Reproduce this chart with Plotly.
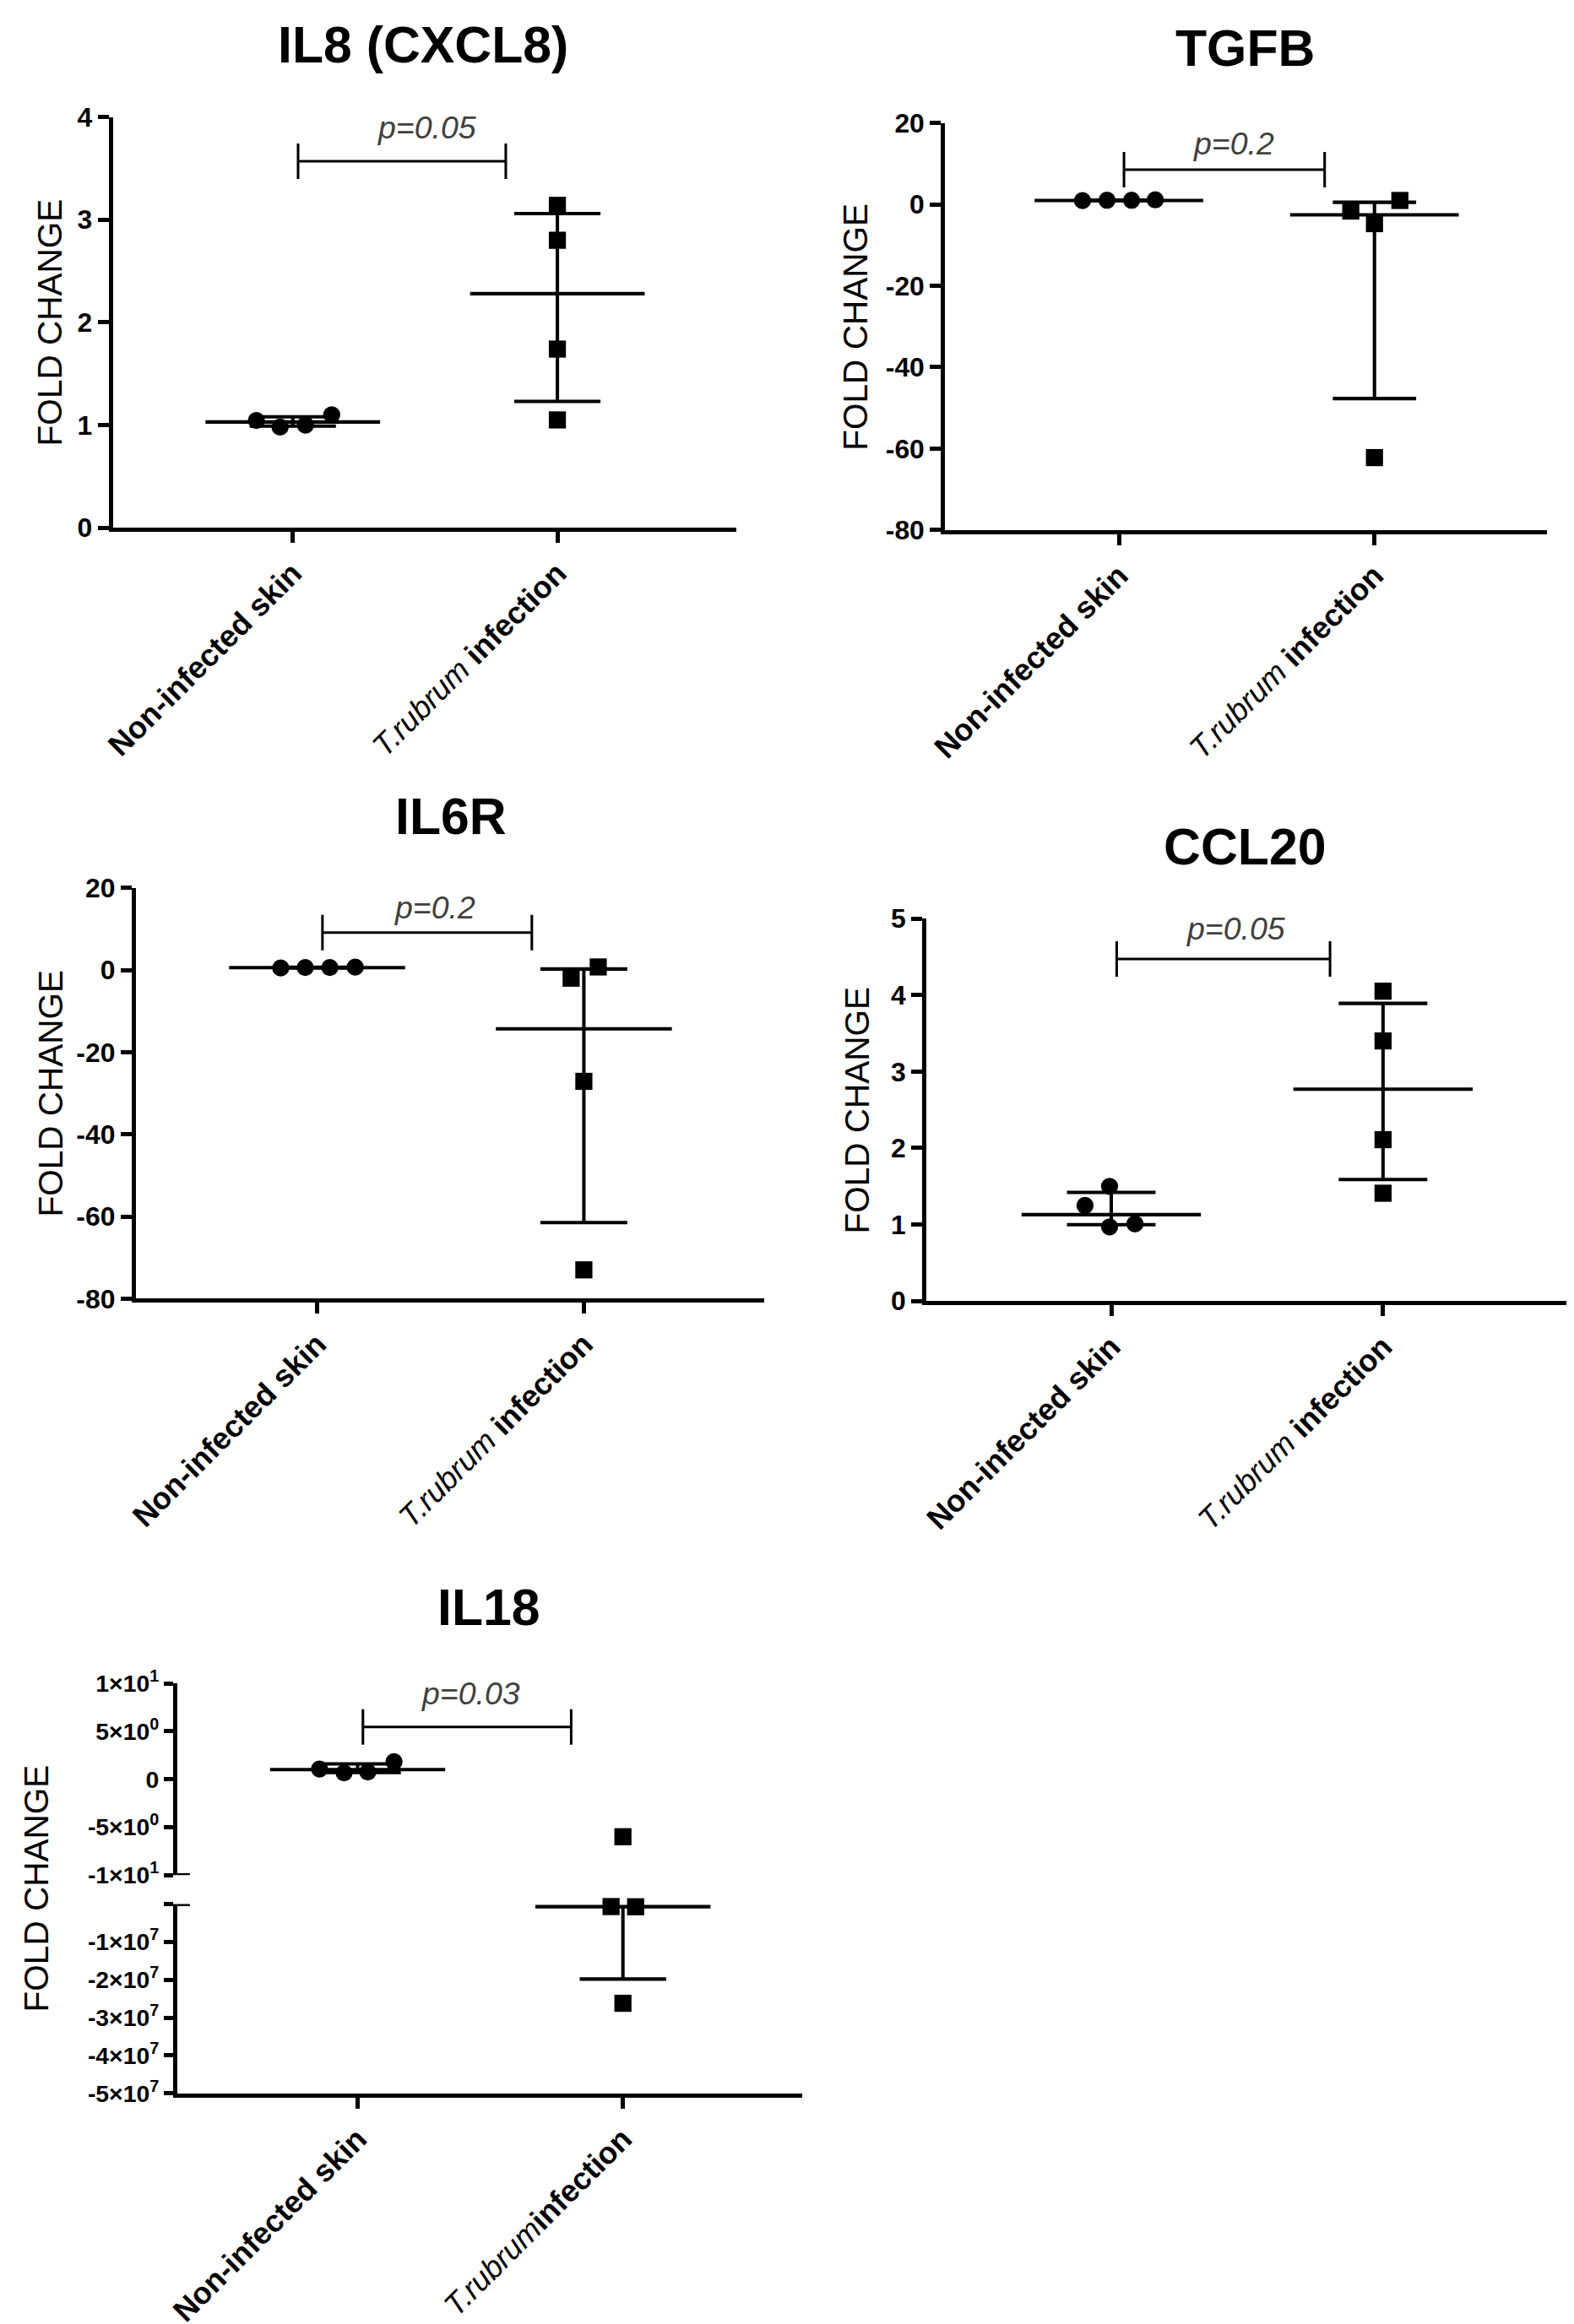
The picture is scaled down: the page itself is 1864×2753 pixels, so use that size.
import plotly.graph_objects as go

W, H = 1864, 2753
FONT = "Liberation Sans, Arial, sans-serif"

# ---------------- data ----------------
CATEGORIES = ["<b>Non-infected skin</b>", "<i>T.rubrum</i> <b>infection</b>"]
CATEGORIES_IL18 = ["<b>Non-infected skin</b>", "<i>T.rubrum</i><b>infection</b>"]
TITLES = ["IL8 (CXCL8)", "TGFB", "IL6R", "CCL20", "IL18"]
P_TEXT = ["p=0.05", "p=0.2", "p=0.2", "p=0.05", "p=0.03"]

IL8_NONINF = [1.045, 0.98, 1.00, 1.10]
IL8_TRUB = [3.14, 2.80, 1.74, 1.05]
IL8_MEDIAN = [1.03, 2.28]
IL8_Q1 = [0.99, 1.23]
IL8_Q3 = [1.08, 3.06]
IL8_BRACKET = 3.57
IL8_TICKS = [0, 1, 2, 3, 4]

TGFB_NONINF = [0.9, 1.0, 1.0, 1.1]
TGFB_TRUB = [-1.66, -4.75, 0.95, -62.2]
TGFB_MEDIAN = [0.95, -2.6]
TGFB_Q1 = [0.9, -47.7]
TGFB_Q3 = [1.05, 0.5]
TGFB_BRACKET = 8.5
TGFB_TICKS = [20, 0, -20, -40, -60, -80]

IL6R_NONINF = [0.5, 0.6, 0.6, 0.7]
IL6R_TRUB = [-1.99, 0.75, -27.1, -73.0]
IL6R_MEDIAN = [0.6, -14.3]
IL6R_Q1 = [0.5, -61.5]
IL6R_Q3 = [0.7, 0.25]
IL6R_BRACKET = 9.1
IL6R_TICKS = [20, 0, -20, -40, -60, -80]

CCL20_NONINF = [1.25, 1.50, 0.97, 1.01]
CCL20_TRUB = [4.05, 3.40, 2.11, 1.41]
CCL20_MEDIAN = [1.13, 2.77]
CCL20_Q1 = [1.00, 1.59]
CCL20_Q3 = [1.42, 3.89]
CCL20_BRACKET = 4.47
CCL20_TICKS = [0, 1, 2, 3, 4, 5]

IL18_NONINF = [1.06, 0.66, 0.76, 1.82]
IL18_TRUB = [-6.0, -6.5e5, -7.0e5, -2.62e7]
IL18_MEDIAN = [1.01, -6.7e5]
IL18_Q1 = [0.69, -1.98e7]
IL18_Q3 = [1.6, None]
IL18_BRACKET = 5.45
IL18_UPPER_TICKS = [10, 5, 0, -5, -10]
IL18_UPPER_LABELS = ["1×10<sup>1</sup>", "5×10<sup>0</sup>", "0",
                     "-5×10<sup>0</sup>", "-1×10<sup>1</sup>"]
IL18_LOWER_TICKS = [0, -1e7, -2e7, -3e7, -4e7, -5e7]
IL18_LOWER_LABELS = ["", "-1×10<sup>7</sup>", "-2×10<sup>7</sup>", "-3×10<sup>7</sup>",
                     "-4×10<sup>7</sup>", "-5×10<sup>7</sup>"]

# ---------------- layout / style ----------------
# page placement correction (the page is shown with a small offset / scale)
KX, BX = 1.014, -29.0
KY, BY = 1.012, -26.0
K = (KX + KY) / 2


def tx(v):
    return KX * v + BX


def ty(v):
    return KY * v + BY


def s(v):
    return v * K


XR = [-0.68, 1.675]
MED_HALF = 0.33
CAP_HALF = 0.163
BRACKET_X = [0.02, 0.805]
BRACKET_TICK_PX = 21
MSIZE = s(20)
LW = s(4)

PANELS = [
    dict(vals=(IL8_NONINF, IL8_TRUB), med=IL8_MEDIAN, q1=IL8_Q1, q3=IL8_Q3,
         br=IL8_BRACKET, ticks=IL8_TICKS,
         dx=([-43, -15, 15, 46], [0, 0, 0, 0]),
         xd=(133, 869), yd=(136.6, 624), title=(499, 51), ytx=58, px=0.506, ps=39),
    dict(vals=(TGFB_NONINF, TGFB_TRUB), med=TGFB_MEDIAN, q1=TGFB_Q1, q3=TGFB_Q3,
         br=TGFB_BRACKET, ticks=TGFB_TICKS,
         dx=([-43, -14, 15, 43], [-28, 0, 30, 0]),
         xd=(1116, 1827), yd=(143.5, 626.8), title=(1470, 55), ytx=1010, px=0.449, ps=31),
    dict(vals=(IL6R_NONINF, IL6R_TRUB), med=IL6R_MEDIAN, q1=IL6R_Q1, q3=IL6R_Q3,
         br=IL6R_BRACKET, ticks=IL6R_TICKS,
         dx=([-43, -14, 15, 45], [-15, 17, 0, 0]),
         xd=(160, 902), yd=(1051.5, 1539), title=(532, 967), ytx=60, px=0.44, ps=29),
    dict(vals=(CCL20_NONINF, CCL20_TRUB), med=CCL20_MEDIAN, q1=CCL20_Q1, q3=CCL20_Q3,
         br=CCL20_BRACKET, ticks=CCL20_TICKS,
         dx=([-31, -2, -2, 28], [0, 0, 0, 0]),
         xd=(1094, 1850), yd=(1087.8, 1542), title=(1470, 1003), ytx=1012, px=0.458, ps=36),
]
IL18_LAYOUT = dict(dx=([-45, -16, 12, 43], [0, -14, 15, 0]),
                   xd=(209, 947), yu=(1995.7, 2223.2), yl=(2257.7, 2482.3),
                   title=(577, 1905), ytx=43, px=0.425, ps=39)


def xdom(a, b):
    return [tx(a) / W, tx(b) / W]


def ydom(top, bottom):
    return [1 - ty(bottom) / H, 1 - ty(top) / H]


fig = go.Figure()
layout = {}
annotations = []
shapes = []

axis_common = dict(showgrid=False, zeroline=False, showline=True, linecolor="black",
                   linewidth=s(4.5), ticks="outside", tickwidth=s(4.5), tickcolor="black",
                   ticklen=s(13))


def line_trace(xs, ys, xa, ya, width=LW):
    fig.add_trace(go.Scatter(x=xs, y=ys, mode="lines", line=dict(color="black", width=width),
                             xaxis=xa, yaxis=ya, showlegend=False, hoverinfo="skip",
                             cliponaxis=False))


def marker_trace(xs, ys, xa, ya, symbol):
    fig.add_trace(go.Scatter(x=xs, y=ys, mode="markers",
                             marker=dict(symbol=symbol, size=MSIZE, color="black",
                                         line=dict(width=0)),
                             xaxis=xa, yaxis=ya, showlegend=False, hoverinfo="skip",
                             cliponaxis=False))


def bracket(xa, ya, yv, half):
    x0, x1 = BRACKET_X
    line_trace([x0, x1, None, x0, x0, None, x1, x1],
               [yv, yv, None, yv - half, yv + half, None, yv - half, yv + half],
               xa, ya, width=s(3))


def ptext(xa, ya, x, y, shift, text):
    annotations.append(dict(x=x, y=y, xref=xa, yref=ya, text="<i>%s</i>" % text,
                            showarrow=False, yshift=s(shift), yanchor="middle",
                            font=dict(family=FONT, size=s(37), color="#404040")))


def titles(title, tpos, ytx, yc):
    annotations.append(dict(x=tx(tpos[0]) / W, y=1 - ty(tpos[1]) / H, xref="paper",
                            yref="paper", text="<b>%s</b>" % title, showarrow=False,
                            xanchor="center", yanchor="middle",
                            font=dict(family=FONT, size=s(60), color="black")))
    annotations.append(dict(x=tx(ytx) / W, y=1 - ty(yc) / H, xref="paper", yref="paper",
                            text="FOLD CHANGE", showarrow=False, textangle=-90,
                            xanchor="center", yanchor="middle",
                            font=dict(family=FONT, size=s(40), color="black")))


for i, p in enumerate(PANELS):
    n = i + 1
    xa, ya = "x%d" % n, "y%d" % n
    ymin, ymax = min(p["ticks"]), max(p["ticks"])
    ppx = s(p["xd"][1] - p["xd"][0]) / (XR[1] - XR[0])
    ppy = s(p["yd"][1] - p["yd"][0]) / (ymax - ymin)
    layout["xaxis%d" % n] = dict(axis_common, domain=xdom(*p["xd"]), range=XR, anchor=ya,
                                 tickvals=[0, 1], ticktext=CATEGORIES, tickangle=-45,
                                 tickfont=dict(family=FONT, size=s(36), color="black"))
    layout["yaxis%d" % n] = dict(axis_common, domain=ydom(*p["yd"]), range=[ymin, ymax],
                                 anchor=xa, tickvals=p["ticks"],
                                 ticktext=[str(t) for t in p["ticks"]],
                                 tickfont=dict(family=FONT, size=s(31.5), color="black",
                                               weight="bold"))
    for g in range(2):
        line_trace([g - MED_HALF, g + MED_HALF], [p["med"][g]] * 2, xa, ya)
        line_trace([g - CAP_HALF, g + CAP_HALF, None, g - CAP_HALF, g + CAP_HALF, None, g, g],
                   [p["q1"][g], p["q1"][g], None, p["q3"][g], p["q3"][g], None,
                    p["q1"][g], p["q3"][g]], xa, ya)
        xs = [g + s(d) / ppx for d in p["dx"][g]]
        marker_trace(xs, p["vals"][g], xa, ya, "circle" if g == 0 else "square")
    bracket(xa, ya, p["br"], s(BRACKET_TICK_PX) / ppy)
    ptext(xa, ya, p["px"], p["br"], p["ps"], P_TEXT[i])
    titles(TITLES[i], p["title"], p["ytx"], (p["yd"][0] + p["yd"][1]) / 2)

# ---------------- IL18 broken axis ----------------
L = IL18_LAYOUT
UPPER = [min(IL18_UPPER_TICKS), max(IL18_UPPER_TICKS)]
LOWER = [min(IL18_LOWER_TICKS), max(IL18_LOWER_TICKS)]
layout["xaxis5"] = dict(axis_common, domain=xdom(*L["xd"]), range=XR, anchor="y5",
                        tickvals=[0, 1], ticktext=CATEGORIES_IL18, tickangle=-45,
                        tickfont=dict(family=FONT, size=s(36), color="black"))
layout["xaxis6"] = dict(domain=xdom(*L["xd"]), range=XR, anchor="y6", matches="x5",
                        visible=False)
ytick_font = dict(family=FONT, size=s(28), color="black", weight="bold")
layout["yaxis5"] = dict(axis_common, domain=ydom(*L["yl"]), range=LOWER, anchor="x5",
                        tickvals=IL18_LOWER_TICKS, ticktext=IL18_LOWER_LABELS,
                        tickfont=ytick_font, ticklen=s(11))
layout["yaxis6"] = dict(axis_common, domain=ydom(*L["yu"]), range=UPPER, anchor="x6",
                        tickvals=IL18_UPPER_TICKS, ticktext=IL18_UPPER_LABELS,
                        tickfont=ytick_font, ticklen=s(11))

ppx18 = s(L["xd"][1] - L["xd"][0]) / (XR[1] - XR[0])
ppy18u = s(L["yu"][1] - L["yu"][0]) / (UPPER[1] - UPPER[0])


def axis_of(v):
    return "y6" if v >= UPPER[0] else "y5"


for g, vals in enumerate([IL18_NONINF, IL18_TRUB]):
    sym = "circle" if g == 0 else "square"
    for ax in ("y6", "y5"):
        xs = [g + s(d) / ppx18 for d, v in zip(L["dx"][g], vals) if axis_of(v) == ax]
        ys = [v for v in vals if axis_of(v) == ax]
        if ys:
            marker_trace(xs, ys, "x6" if ax == "y6" else "x5", ax, sym)
    med, q1, q3 = IL18_MEDIAN[g], IL18_Q1[g], IL18_Q3[g]
    ax = axis_of(med)
    xa = "x6" if ax == "y6" else "x5"
    line_trace([g - MED_HALF, g + MED_HALF], [med, med], xa, ax)
    for q in (q1, q3):
        if q is not None:
            line_trace([g - CAP_HALF, g + CAP_HALF], [q, q], xa, ax)
    lo = q1
    hi = q3 if q3 is not None else med
    line_trace([g, g], [lo, hi], xa, ax)

bracket("x6", "y6", IL18_BRACKET, s(BRACKET_TICK_PX) / ppy18u)
ptext("x6", "y6", L["px"], IL18_BRACKET, L["ps"], P_TEXT[4])
titles(TITLES[4], L["title"], L["ytx"], (L["yu"][0] + L["yl"][1]) / 2)

# break caps
for yref, yv in (("y6", UPPER[0]), ("y5", LOWER[1])):
    shapes.append(dict(type="line", xref="paper", yref=yref,
                       x0=tx(L["xd"][0] - 7) / W, x1=tx(L["xd"][0] + 15) / W, y0=yv, y1=yv,
                       line=dict(color="black", width=s(4.5))))

fig.update_layout(
    width=W, height=H, autosize=False,
    margin=dict(l=0, r=0, t=0, b=0),
    paper_bgcolor="white", plot_bgcolor="white",
    showlegend=False,
    annotations=annotations, shapes=shapes,
    font=dict(family=FONT, color="black"),
    **layout,
)

fig.write_html("out.html", config={"displayModeBar": False})
